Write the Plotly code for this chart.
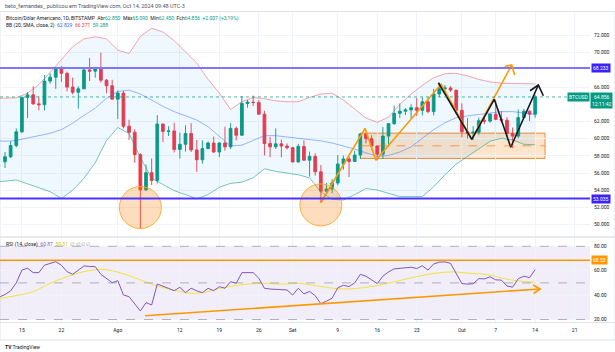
import pandas as pd
import plotly.graph_objects as go

W, H = 615, 352
def fx(p): return p / W
def fy(p): return 1 - p / H

GREEN = "#089981"
RED = "#F23645"
ORANGE = "#FF9800"
FONT = "Roboto"

# ---------------- data ----------------
dates = pd.date_range("2024-07-12", "2024-10-14", freq="D")
opens = [57320, 57900, 59200, 60800, 64800, 65100, 64050, 63950, 66700, 67150,
         68200, 67600, 66000, 65400, 65800, 68000, 67850, 68250, 66800, 66150,
         64600, 65300, 61450, 60750, 58150, 54050, 56050, 55150, 61700, 60850,
         60900, 58750, 59350, 60600, 58700, 57550, 58850, 59500, 58450, 59500,
         59050, 61200, 60400, 64100, 64250, 64200, 62850, 59450, 59050, 59400,
         59150, 58950, 57300, 59100, 57500, 57950, 56150, 53900, 54150, 54850,
         57050, 57650, 57350, 58100, 60550, 60000, 59150, 58200, 60300, 61750,
         62950, 63200, 63350, 63600, 63300, 64300, 63150, 65200, 65800, 65900,
         65650, 63300, 60800, 60650, 60750, 62100, 62050, 62850, 62250, 62150,
         60600, 60300, 62450, 63200, 62850]
highs = [58450, 59700, 61200, 64900, 65400, 66100, 64900, 67400, 67600, 68350,
         68450, 67800, 67100, 66100, 68200, 69400, 68300, 70000, 66950, 66850,
         65600, 65550, 62200, 61100, 58300, 57000, 57700, 62750, 61750, 61450,
         61850, 60700, 61550, 61800, 59850, 59800, 59650, 60250, 59600, 61400,
         61800, 61400, 64950, 64500, 65000, 64500, 63250, 60200, 61200, 59900,
         59450, 59050, 59400, 59800, 58500, 58300, 56950, 54850, 55300, 58100,
         58050, 57950, 58600, 60650, 60650, 60400, 59200, 61350, 61800, 63850,
         64100, 63550, 64000, 64750, 64800, 64800, 65800, 66500, 66250, 66100,
         65650, 64100, 62400, 61450, 62450, 62400, 62950, 64450, 63200, 62500,
         61300, 63400, 63450, 63300, 65090]
lows = [56600, 57750, 59000, 60650, 62400, 63950, 63300, 63300, 66400, 65800,
        66600, 65500, 65150, 63500, 65750, 66700, 67100, 66500, 65300, 64550,
        62300, 61200, 59850, 57200, 49500, 53900, 54600, 54800, 59600, 60300,
        58400, 57700, 58500, 58450, 56150, 57100, 58800, 58350, 57850, 58600,
        58800, 59800, 60350, 63600, 63800, 62800, 58050, 57850, 58800, 57850,
        58750, 57250, 57200, 57450, 55600, 55700, 52550, 53750, 53650, 54600,
        56400, 55550, 57300, 57650, 59450, 58700, 57500, 57650, 59200, 61600,
        62400, 62750, 62350, 62650, 62700, 62950, 62700, 64850, 65450, 65450,
        62850, 60150, 60000, 59850, 60450, 61700, 61850, 62150, 61850, 60300,
        58900, 60050, 62450, 62050, 62450]
closes = [57900, 59200, 60800, 64800, 65100, 64050, 63950, 66700, 67150, 68200,
          67600, 66000, 65400, 65800, 68000, 67850, 68250, 66800, 66150, 64600,
          65300, 61450, 60750, 58150, 54050, 56050, 55150, 61700, 60850, 60900,
          58750, 59350, 60600, 58700, 57550, 58850, 59500, 58450, 59500, 59050,
          61200, 60400, 64100, 64250, 64200, 62850, 59450, 59050, 59400, 59150,
          58950, 57300, 59100, 57500, 57950, 56150, 53900, 54150, 54850, 57050,
          57650, 57350, 58100, 60550, 60000, 59150, 58200, 60300, 61750, 62950,
          63200, 63350, 63600, 63300, 64300, 63150, 65200, 65800, 65900, 65650,
          63300, 60800, 60650, 60750, 62100, 62050, 62850, 62250, 62150, 60600,
          60300, 62450, 63200, 62850, 64856]

bb_dates = ["2024-07-11"] + list(pd.date_range("2024-07-12", "2024-10-14", freq="2D").strftime("%Y-%m-%d"))
bb_upper = [64700, 64730, 64750, 65300, 66300, 67700, 69250, 70700, 71600, 71850,
            71600, 70300, 69900, 71900, 72850, 72400, 71400, 70150, 68800, 66900,
            65300, 63400, 64300, 64800, 64650, 64400, 64300, 64300, 64800, 65200,
            65300, 64500, 63400, 62400, 61900, 62500, 64000, 65200, 66200, 67100,
            67550, 67600, 67300, 66900, 66600, 66450, 66420, 66400, 66371]
bb_mid = [59750, 59700, 59800, 60050, 60350, 60630, 61050, 61800, 62700, 63550,
          64700, 65500, 65650, 65200, 64500, 63750, 63150, 62700, 62170, 61400,
          60250, 59150, 59250, 59800, 60350, 60350, 60200, 60050, 59900, 59750,
          59500, 59150, 58800, 58350, 57950, 58050, 58450, 59050, 60000, 61050,
          61850, 62450, 62650, 62800, 63000, 63150, 63150, 63000, 62829]
bb_lower = [55000, 55050, 55200, 54750, 54250, 53840, 53050, 54000, 55400, 57200,
            59800, 61300, 60600, 57800, 55400, 54700, 53950, 53500, 53000, 53500,
            54350, 54800, 54950, 55450, 56500, 56200, 56000, 55800, 55450, 53800,
            52950, 52870, 53500, 54200, 54030, 53600, 53260, 53260, 53260, 54400,
            55800, 57050, 57950, 58750, 59700, 60050, 59850, 59350, 59288]

rsi_dates = pd.date_range("2024-07-11", "2024-10-14", freq="D")
rsi = [38.5, 40.5, 43.5, 50, 60.5, 62, 58.4, 58.4, 64.5, 66, 67.4,
       64.5, 59.2, 57, 60.5, 63.9, 63.5, 63.3, 57, 53.8, 50.2,
       51.8, 40.1, 38.7, 33, 27, 33.8, 31.9, 49.1, 47.5, 45.5,
       43.6, 46.4, 42, 45.6, 43.5, 42, 45.6, 43.6, 46.9, 45.6,
       51, 49.7, 58.4, 58.4, 58.4, 53.8, 45.6, 45, 44.8, 44.4,
       44.2, 40.1, 45.6, 41, 43, 39.5, 33, 35, 37.5, 46,
       48, 47, 50, 57, 55.5, 52.5, 49.5, 55.5, 59, 61.5,
       62, 62.3, 62.8, 61.8, 64, 60.5, 65.5, 67, 67.2, 66,
       57.5, 49.5, 49, 49.3, 53.5, 53.3, 55, 52.5, 52.3, 47.5,
       46.5, 53.5, 55.5, 54.3, 60.87]
ma_dates = ["2024-07-11", "2024-07-15", "2024-07-17", "2024-07-20", "2024-07-23", "2024-07-26",
            "2024-07-29", "2024-07-31", "2024-08-03", "2024-08-05", "2024-08-08", "2024-08-11",
            "2024-08-14", "2024-08-17", "2024-08-19", "2024-08-23", "2024-08-26", "2024-08-29",
            "2024-08-31", "2024-09-02", "2024-09-06", "2024-09-10", "2024-09-15", "2024-09-20",
            "2024-09-25", "2024-09-29", "2024-10-02", "2024-10-06", "2024-10-09", "2024-10-14"]
ma_vals = [37.2, 40.5, 42.8, 49.7, 55.1, 59.3, 61.1, 60, 56, 52.4, 47.5, 44, 41.5, 42.9, 45.5,
           48.5, 49.7, 49.1, 49.1, 49.7, 47, 45, 47, 52, 57, 59, 58, 56.5, 53, 50.31]

# axis ticks
date_ticks = ["2024-07-15", "2024-07-22", "2024-08-01", "2024-08-12", "2024-08-19", "2024-08-26",
              "2024-09-01", "2024-09-09", "2024-09-16", "2024-09-23", "2024-10-01", "2024-10-07",
              "2024-10-14", "2024-10-21"]
date_labels = ["15", "22", "Ago", "12", "19", "26", "Set", "9", "16", "23", "Out", "7", "14", "21"]
price_ticks = [50000, 52000, 54000, 56000, 58000, 60000, 62000, 66000, 70000, 72000]
price_labels = ["50.000", "52.000", "54.000", "56.000", "58.000", "60.000", "62.000", "66.000", "70.000", "72.000"]
rsi_ticks = [20, 40, 60, 80]
rsi_labels = ["20.00", "40.00", "60.00", "80.00"]

# drawings
hlines = [68233, 53035]
hline_labels = ["68.233", "53.035"]
hline_colors = ["#7F76FF", "#4A33FF"]
circle_x = ["2024-08-05", "2024-09-06"]
circle_y = [52000, 52300]
rect_x = ["2024-09-13", "2024-10-15 18:00"]
rect_y = [57700, 60650]
orange_x = ["2024-09-06", "2024-09-13 20:00", "2024-09-15 18:00", "2024-09-27 08:00", "2024-10-02 18:00", "2024-10-09 20:00"]
orange_y = [52550, 61200, 57500, 66350, 59950, 68570]
black_x = ["2024-09-26 20:00", "2024-10-02 18:00", "2024-10-06 18:00", "2024-10-09 16:00", "2024-10-14 13:30"]
black_y = [66510, 59930, 64580, 59000, 66240]
rsi_line_x = ["2024-08-05 20:00", "2024-10-14 21:00"]
rsi_line_y = [23.1, 45.0]
rsi_hline = 68.53
last_price = 64856

# ---------------- figure ----------------
fig = go.Figure()

fig.add_trace(go.Scatter(x=bb_dates, y=bb_upper, mode="lines", line=dict(color="rgba(242,54,69,0.45)", width=1),
                         hoverinfo="skip", showlegend=False))
fig.add_trace(go.Scatter(x=bb_dates, y=bb_lower, mode="lines", line=dict(color="rgba(8,153,129,0.55)", width=1),
                         fill="tonexty", fillcolor="rgba(33,150,243,0.07)", hoverinfo="skip", showlegend=False))
fig.add_trace(go.Scatter(x=bb_dates, y=bb_mid, mode="lines", line=dict(color="rgba(41,98,255,0.45)", width=1),
                         hoverinfo="skip", showlegend=False))

fig.add_trace(go.Candlestick(x=dates, open=opens, high=highs, low=lows, close=closes,
                             increasing=dict(line=dict(color=GREEN, width=0.9), fillcolor=GREEN),
                             decreasing=dict(line=dict(color=RED, width=0.9), fillcolor=RED),
                             whiskerwidth=0, hoverinfo="skip", showlegend=False))

fig.add_trace(go.Scatter(x=orange_x, y=orange_y, mode="lines", line=dict(color=ORANGE, width=1.6),
                         hoverinfo="skip", showlegend=False))
fig.add_trace(go.Scatter(x=black_x, y=black_y, mode="lines", line=dict(color="#131722", width=1.6),
                         hoverinfo="skip", showlegend=False))

fig.add_trace(go.Scatter(x=ma_dates, y=ma_vals, mode="lines", line=dict(color="#F2E33B", width=1, shape="spline"),
                         xaxis="x2", yaxis="y2", hoverinfo="skip", showlegend=False))
fig.add_trace(go.Scatter(x=rsi_dates, y=rsi, mode="lines", line=dict(color="#7E57C2", width=1),
                         xaxis="x2", yaxis="y2", hoverinfo="skip", showlegend=False))
fig.add_trace(go.Scatter(x=rsi_line_x, y=rsi_line_y, mode="lines", line=dict(color=ORANGE, width=1.6),
                         xaxis="x2", yaxis="y2", hoverinfo="skip", showlegend=False))

shapes = []
# frame
shapes.append(dict(type="rect", xref="paper", yref="paper", x0=0, x1=1, y0=fy(340), y1=fy(11.5),
                   line=dict(color="#E0E3EB", width=1), layer="below"))
shapes.append(dict(type="line", xref="paper", yref="paper", x0=0, x1=1, y0=fy(237), y1=fy(237),
                   line=dict(color="#E0E3EB", width=1.5)))
shapes.append(dict(type="line", xref="paper", yref="paper", x0=0, x1=1, y0=fy(322.5), y1=fy(322.5),
                   line=dict(color="#E0E3EB", width=1)))
# RSI band
shapes.append(dict(type="rect", xref="paper", yref="y2", x0=0, x1=fx(590), y0=20, y1=80,
                   fillcolor="rgba(126,87,194,0.1)", line=dict(width=0), layer="below"))
for v in (80, 50, 20):
    shapes.append(dict(type="line", xref="paper", yref="y2", x0=0, x1=fx(590), y0=v, y1=v,
                       line=dict(color="rgba(120,123,134,0.55)", width=1, dash="dash")))
shapes.append(dict(type="line", xref="paper", yref="y2", x0=0, x1=fx(590), y0=rsi_hline, y1=rsi_hline,
                   line=dict(color=ORANGE, width=1.5)))
# circles
for cx, cy in zip(circle_x, circle_y):
    shapes.append(dict(type="circle", xref="x", yref="y", xsizemode="pixel", ysizemode="pixel",
                       xanchor=cx, yanchor=cy, x0=-21, x1=21, y0=-21, y1=21,
                       fillcolor="rgba(245,124,0,0.25)", line=dict(color="rgba(255,167,38,0.9)", width=1)))
# rectangle
shapes.append(dict(type="rect", xref="x", yref="y", x0=rect_x[0], x1=rect_x[1], y0=rect_y[0], y1=rect_y[1],
                   fillcolor="rgba(245,124,0,0.2)", line=dict(color="rgba(239,108,0,0.75)", width=1), layer="below"))
shapes.append(dict(type="line", xref="x", yref="y", x0=rect_x[0], x1=rect_x[1],
                   y0=(rect_y[0] + rect_y[1]) / 2, y1=(rect_y[0] + rect_y[1]) / 2,
                   line=dict(color="rgba(239,108,0,0.6)", width=1, dash="dash")))
# horizontal lines
for v, c in zip(hlines, hline_colors):
    shapes.append(dict(type="line", xref="paper", yref="y", x0=0, x1=fx(590), y0=v, y1=v,
                       line=dict(color=c, width=2)))
# last price dotted
shapes.append(dict(type="line", xref="paper", yref="y", x0=0, x1=fx(571), y0=last_price, y1=last_price,
                   line=dict(color="rgba(8,153,129,0.7)", width=1, dash="dot")))
# chevrons
shapes.append(dict(type="path", xref="x", yref="y", xsizemode="pixel", ysizemode="pixel",
                   xanchor=black_x[-1], yanchor=black_y[-1], path="M-8.3,-5.7 L0,0 L5,-10.7",
                   line=dict(color="#131722", width=1.6)))
shapes.append(dict(type="path", xref="x", yref="y", xsizemode="pixel", ysizemode="pixel",
                   xanchor=orange_x[-1], yanchor=orange_y[-1], path="M-7,-1.5 L0,0 L3,-10",
                   line=dict(color=ORANGE, width=1.6)))
shapes.append(dict(type="path", xref="x2", yref="y2", xsizemode="pixel", ysizemode="pixel",
                   xanchor=rsi_line_x[-1], yanchor=rsi_line_y[-1], path="M-7,4 L0,0 L-6.5,-4.5",
                   line=dict(color=ORANGE, width=1.6)))

ann = []
ann.append(dict(xref="paper", yref="paper", x=fx(3), y=fy(6), xanchor="left", yanchor="middle", showarrow=False,
                text="beto_fernandes_ publicou em TradingView.com, Oct 14, 2024 09:48 UTC-3",
                font=dict(family=FONT, size=5.5, color="#50535E")))
g = lambda s: f"<span style='color:{GREEN}'>{s}</span>"
ann.append(dict(xref="paper", yref="paper", x=fx(4), y=fy(19), xanchor="left", yanchor="middle", showarrow=False,
                text="Bitcoin/Dólar Americano, 1D, BITSTAMP  Abr" + g("62.850") + "  Máx" + g("65.090") +
                     "  Mín" + g("62.450") + "  Fch" + g("64.856") + "  " + g("+2.007 (+3,19%)"),
                font=dict(family=FONT, size=5, color="#131722")))
ann.append(dict(xref="paper", yref="paper", x=fx(4), y=fy(26), xanchor="left", yanchor="middle", showarrow=False,
                text="BB (20, SMA, close, 2)  <span style='color:#2962FF'>62.829</span>  "
                     "<span style='color:#F23645'>66.371</span>  <span style='color:#089981'>59.288</span>",
                font=dict(family=FONT, size=5, color="#131722")))
ann.append(dict(xref="paper", yref="paper", x=fx(4), y=fy(244), xanchor="left", yanchor="middle", showarrow=False,
                text="RSI (14, close)  <span style='color:#7E57C2'>60.87</span>  "
                     "<span style='color:#D4C21C'>50.31</span>  <span style='color:#9598A1'>∅ ∅ ∅ ∅</span>",
                font=dict(family=FONT, size=5, color="#131722")))
for v, t in zip(hlines, hline_labels):
    ann.append(dict(xref="paper", yref="y", x=fx(591), y=v, xanchor="left", yanchor="middle", showarrow=False,
                    text=t, bgcolor="#3A22FF", borderpad=1, font=dict(family=FONT, size=5, color="white")))
ann.append(dict(xref="paper", yref="y", x=fx(590), y=last_price, xanchor="right", yanchor="middle", showarrow=False,
                text="BTCUSD", bgcolor=GREEN, borderpad=1, font=dict(family=FONT, size=5, color="white")))
ann.append(dict(xref="paper", yref="y", x=fx(590), y=last_price, xanchor="left", yanchor="top", showarrow=False,
                text="64.856<br>12:11:42", bgcolor=GREEN, borderpad=1, yshift=5,
                font=dict(family=FONT, size=5, color="white")))
ann.append(dict(xref="paper", yref="y2", x=fx(591), y=rsi_hline, xanchor="left", yanchor="middle", showarrow=False,
                text="68.53", bgcolor=ORANGE, borderpad=1, font=dict(family=FONT, size=5, color="white")))
ann.append(dict(xref="paper", yref="paper", x=fx(3), y=fy(347), xanchor="left", yanchor="middle", showarrow=False,
                text="<b>TV</b> TradingView", font=dict(family=FONT, size=5, color="#131722")))

xr = ["2024-07-11 02:43", "2024-10-23 17:17"]
fig.update_layout(
    width=W, height=H, margin=dict(l=0, r=0, t=0, b=0),
    paper_bgcolor="white", plot_bgcolor="white",
    font=dict(family=FONT, size=5, color="#131722"),
    showlegend=False, shapes=shapes, annotations=ann,
    xaxis=dict(domain=[0, fx(590)], range=xr, type="date", anchor="y", tickvals=date_ticks,
               showticklabels=False, showgrid=True, gridcolor="#F0F3FA", gridwidth=1, zeroline=False,
               rangeslider=dict(visible=False), showline=False, ticks=""),
    xaxis2=dict(domain=[0, fx(590)], range=xr, type="date", anchor="y2", matches="x", tickvals=date_ticks,
                ticktext=date_labels, showgrid=True, gridcolor="#F0F3FA", gridwidth=1, zeroline=False,
                showline=False, ticks="", ticklabelstandoff=4, tickfont=dict(size=5, color="#131722")),
    yaxis=dict(domain=[fy(237), fy(12)], range=[48570, 74733], side="right", anchor="x",
               tickvals=price_ticks, ticktext=price_labels, showgrid=True, gridcolor="#F0F3FA",
               zeroline=False, ticks="", ticklabelstandoff=3, tickfont=dict(size=5, color="#131722")),
    yaxis2=dict(domain=[fy(322), fy(238)], range=[17.95, 86.8], side="right", anchor="x2",
                tickvals=rsi_ticks, ticktext=rsi_labels, showgrid=True, gridcolor="#F0F3FA",
                zeroline=False, ticks="", ticklabelstandoff=3, tickfont=dict(size=5, color="#131722")),
)

fig.write_html("out.html")
